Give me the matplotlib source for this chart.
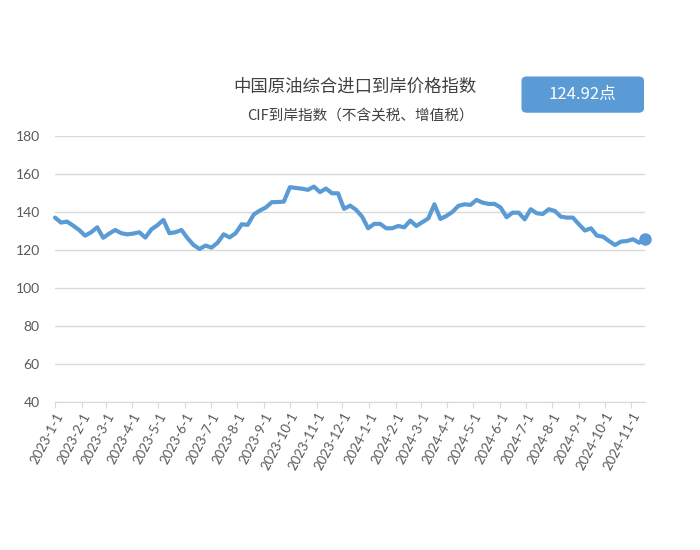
import pandas as pd
import matplotlib.pyplot as plt
import matplotlib.dates as mdates
from matplotlib.patches import FancyBboxPatch

plt.rcParams['font.family'] = ['Lato', 'Noto Sans CJK SC', 'DejaVu Sans']

# weekly index values
start_date = "2023-01-01"
values = [137.0, 134.4, 134.9, 132.8, 130.5, 127.5, 129.3, 131.9, 126.4, 128.6,
          130.5, 128.8, 128.2, 128.6, 129.3, 126.5, 130.8, 133.0, 135.8, 128.8,
          129.3, 130.5, 126.2, 122.6, 120.5, 122.3, 121.2, 123.8, 128.2, 126.6,
          128.8, 133.5, 133.2, 138.6, 140.7, 142.3, 145.1, 145.2, 145.4, 153.0,
          152.6, 152.2, 151.6, 153.3, 150.4, 152.3, 149.8, 149.8, 141.6, 143.3,
          141.1, 137.5, 131.4, 133.7, 133.7, 131.4, 131.4, 132.6, 131.9, 135.4,
          132.6, 134.6, 136.6, 144.0, 136.3, 137.9, 140.0, 143.2, 144.0, 143.7,
          146.3, 144.9, 144.2, 144.2, 142.3, 137.2, 139.6, 139.6, 136.1, 141.4,
          139.3, 138.9, 141.4, 140.5, 137.5, 137.0, 137.0, 133.5, 130.2, 131.4,
          127.5, 127.0, 124.7, 122.6, 124.4, 124.7, 125.6, 123.8, 125.8]
dates = pd.date_range(start_date, periods=len(values), freq="7D")

title = "中国原油综合进口到岸价格指数"
subtitle = "CIF到岸指数（不含关税、增值税）"
badge = "124.92点"
yticks = [40, 60, 80, 100, 120, 140, 160, 180]

blue = "#5b9bd5"
grid = "#d9d9d9"
txt = "#595959"

fig = plt.figure(figsize=(7, 5.5), dpi=100)
ax = fig.add_axes([0.0786, 0.269, 0.843, 0.484])

ax.plot(dates, values, color=blue, lw=3, solid_joinstyle="round",
        solid_capstyle="round", zorder=3, clip_on=False)
ax.plot(dates[-1:], values[-1:], "o", color=blue, ms=8, zorder=4, clip_on=False)

ax.set_ylim(40, 180)
ax.set_yticks(yticks)
ax.set_xlim(dates[0], dates[-1])
ax.xaxis.set_major_locator(mdates.MonthLocator())
ax.xaxis.set_major_formatter(plt.FuncFormatter(
    lambda x, p: f"{mdates.num2date(x).year}-{mdates.num2date(x).month}-{mdates.num2date(x).day}"))

ax.grid(axis="y", color=grid, lw=1)
for s in ["top", "right", "left"]:
    ax.spines[s].set_visible(False)
ax.spines["bottom"].set_color(grid)
ax.tick_params(axis="y", length=0, labelsize=10, labelcolor=txt, pad=11)
ax.tick_params(axis="x", length=4, color=grid, labelsize=9.5, labelcolor=txt, pad=2)
for lab in ax.get_xticklabels():
    lab.set_rotation(62)
    lab.set_ha("right")
    lab.set_rotation_mode("anchor")

fig.text(0.507, 0.843, title, ha="center", va="center", fontsize=12.5,
         color="#404040", family=["Noto Sans CJK SC", "DejaVu Sans"])
fig.text(0.515, 0.789, subtitle, ha="center", va="center", fontsize=10.5,
         color="#404040", family=["Noto Sans CJK SC", "DejaVu Sans"])

box = FancyBboxPatch((0.745, 0.795), 0.175, 0.066, boxstyle="round,pad=0,rounding_size=0.008",
                     transform=fig.transFigure, facecolor=blue, edgecolor="none")
fig.patches.append(box)
fig.text(0.8325, 0.829, badge, ha="center", va="center", fontsize=12,
         color="white", family=["Noto Sans CJK SC", "DejaVu Sans"])

fig.savefig("out.png", dpi=100)
